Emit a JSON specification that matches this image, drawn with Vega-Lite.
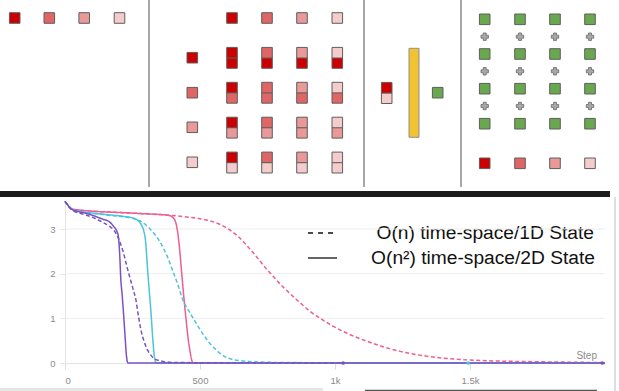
{
"$schema":"https://vega.github.io/schema/vega-lite/v6.json",
"width":619,"height":391,"padding":0,"autosize":{"type":"none"},
"background":"#ffffff",
"config":{"view":{"stroke":null},"font":"Liberation Sans"},
"datasets":{
"blk":[{"x":0,"x2":610,"y":191,"y2":197,"k":"black"},{"x":0,"x2":323,"y":388,"y2":391,"k":"light"}],
"ybar":[{"x":409,"x2":419,"y":48.3,"y2":137.3}],
"vr":[{"x":149,"y":0,"y2":187,"k":"div"},{"x":364,"y":0,"y2":187,"k":"div"},{"x":461,"y":0,"y2":187,"k":"div"},{"x":615,"y":197,"y2":391,"k":"edge"}],
"hs":[{"x":308,"x2":337,"y":258,"k":"legend"},{"x":365,"x2":597,"y":390.3,"k":"dark"}],
"hd":[{"x":308,"x2":338,"y":233,"k":"legend"}],
"sq":[
{"x":14.7,"y":18,"c":"c0"},{"x":49.3,"y":18,"c":"c1"},{"x":84.2,"y":18,"c":"c2"},{"x":119.5,"y":18,"c":"c3"},
{"x":232,"y":18,"c":"c0"},{"x":267,"y":18,"c":"c1"},{"x":302,"y":18,"c":"c2"},{"x":337.3,"y":18,"c":"c3"},
{"x":192.3,"y":57.7,"c":"c0"},{"x":192.3,"y":92.7,"c":"c1"},{"x":192.3,"y":127.3,"c":"c2"},{"x":192.3,"y":162.3,"c":"c3"},
{"x":232,"y":63,"c":"c0"},{"x":267,"y":63,"c":"c0"},{"x":302,"y":63,"c":"c0"},{"x":337.3,"y":63,"c":"c0"},
{"x":232,"y":97.9,"c":"c1"},{"x":267,"y":97.9,"c":"c1"},{"x":302,"y":97.9,"c":"c1"},{"x":337.3,"y":97.9,"c":"c1"},
{"x":232,"y":132.8,"c":"c2"},{"x":267,"y":132.8,"c":"c2"},{"x":302,"y":132.8,"c":"c2"},{"x":337.3,"y":132.8,"c":"c2"},
{"x":232,"y":167.7,"c":"c3"},{"x":267,"y":167.7,"c":"c3"},{"x":302,"y":167.7,"c":"c3"},{"x":337.3,"y":167.7,"c":"c3"},
{"x":232,"y":52.7,"c":"c0"},{"x":267,"y":52.7,"c":"c1"},{"x":302,"y":52.7,"c":"c2"},{"x":337.3,"y":52.7,"c":"c3"},
{"x":232,"y":87.6,"c":"c0"},{"x":267,"y":87.6,"c":"c1"},{"x":302,"y":87.6,"c":"c2"},{"x":337.3,"y":87.6,"c":"c3"},
{"x":232,"y":122.5,"c":"c0"},{"x":267,"y":122.5,"c":"c1"},{"x":302,"y":122.5,"c":"c2"},{"x":337.3,"y":122.5,"c":"c3"},
{"x":232,"y":157.4,"c":"c0"},{"x":267,"y":157.4,"c":"c1"},{"x":302,"y":157.4,"c":"c2"},{"x":337.3,"y":157.4,"c":"c3"},
{"x":386.7,"y":98.2,"c":"c3"},{"x":386.7,"y":87.7,"c":"c0"},{"x":437.7,"y":92.7,"c":"g"},
{"x":484.7,"y":19.3,"c":"g"},{"x":520,"y":19.3,"c":"g"},{"x":555,"y":19.3,"c":"g"},{"x":590,"y":19.3,"c":"g"},
{"x":484.7,"y":54,"c":"g"},{"x":520,"y":54,"c":"g"},{"x":555,"y":54,"c":"g"},{"x":590,"y":54,"c":"g"},
{"x":484.7,"y":88.7,"c":"g"},{"x":520,"y":88.7,"c":"g"},{"x":555,"y":88.7,"c":"g"},{"x":590,"y":88.7,"c":"g"},
{"x":484.7,"y":123.7,"c":"g"},{"x":520,"y":123.7,"c":"g"},{"x":555,"y":123.7,"c":"g"},{"x":590,"y":123.7,"c":"g"},
{"x":484.7,"y":163.3,"c":"c0"},{"x":520,"y":163.3,"c":"c1"},{"x":555,"y":163.3,"c":"c2"},{"x":590,"y":163.3,"c":"c3"}
],
"plus":[
{"x":484.7,"y":36.7},{"x":520,"y":36.7},{"x":555,"y":36.7},{"x":590,"y":36.7},
{"x":484.7,"y":71.3},{"x":520,"y":71.3},{"x":555,"y":71.3},{"x":590,"y":71.3},
{"x":484.7,"y":106},{"x":520,"y":106},{"x":555,"y":106},{"x":590,"y":106}
],
"txt":[{"x":594,"y":233,"label":"O(n) time-space/1D State"},{"x":595,"y":257.5,"label":"O(n²) time-space/2D State"}],
"steptxt":[{"x":597,"y":356,"label":"Step"}],
"grid":[{"g":1},{"g":2},{"g":3}],
"lines":[
{"s":"pink","t":"dash","step":0,"v":3.62},{"s":"pink","t":"dash","step":10,"v":3.54},{"s":"pink","t":"dash","step":20,"v":3.47},{"s":"pink","t":"dash","step":32,"v":3.44},{"s":"pink","t":"dash","step":60,"v":3.42},{"s":"pink","t":"dash","step":100,"v":3.4},{"s":"pink","t":"dash","step":200,"v":3.37},{"s":"pink","t":"dash","step":300,"v":3.34},{"s":"pink","t":"dash","step":383,"v":3.31},{"s":"pink","t":"dash","step":450,"v":3.27},{"s":"pink","t":"dash","step":500,"v":3.23},{"s":"pink","t":"dash","step":550,"v":3.16},{"s":"pink","t":"dash","step":600,"v":3.02},{"s":"pink","t":"dash","step":640,"v":2.84},{"s":"pink","t":"dash","step":685,"v":2.55},{"s":"pink","t":"dash","step":720,"v":2.3},{"s":"pink","t":"dash","step":747,"v":2.1},{"s":"pink","t":"dash","step":780,"v":1.88},{"s":"pink","t":"dash","step":808,"v":1.7},{"s":"pink","t":"dash","step":850,"v":1.46},{"s":"pink","t":"dash","step":880,"v":1.3},{"s":"pink","t":"dash","step":907,"v":1.16},{"s":"pink","t":"dash","step":950,"v":0.98},{"s":"pink","t":"dash","step":994,"v":0.82},{"s":"pink","t":"dash","step":1050,"v":0.65},{"s":"pink","t":"dash","step":1117,"v":0.49},{"s":"pink","t":"dash","step":1180,"v":0.36},{"s":"pink","t":"dash","step":1241,"v":0.26},{"s":"pink","t":"dash","step":1320,"v":0.17},{"s":"pink","t":"dash","step":1400,"v":0.11},{"s":"pink","t":"dash","step":1488,"v":0.07},{"s":"pink","t":"dash","step":1600,"v":0.045},{"s":"pink","t":"dash","step":1733,"v":0.03},{"s":"pink","t":"dash","step":1850,"v":0.02},{"s":"pink","t":"dash","step":1985,"v":0.01},
{"s":"pink","t":"solid","step":0,"v":3.62},{"s":"pink","t":"solid","step":10,"v":3.54},{"s":"pink","t":"solid","step":20,"v":3.47},{"s":"pink","t":"solid","step":32,"v":3.44},{"s":"pink","t":"solid","step":60,"v":3.42},{"s":"pink","t":"solid","step":100,"v":3.4},{"s":"pink","t":"solid","step":200,"v":3.37},{"s":"pink","t":"solid","step":300,"v":3.34},{"s":"pink","t":"solid","step":380,"v":3.31},{"s":"pink","t":"solid","step":395,"v":3.28},{"s":"pink","t":"solid","step":405,"v":3.22},{"s":"pink","t":"solid","step":413,"v":3.08},{"s":"pink","t":"solid","step":418,"v":2.9},{"s":"pink","t":"solid","step":422,"v":2.7},{"s":"pink","t":"solid","step":426,"v":2.45},{"s":"pink","t":"solid","step":431,"v":2.1},{"s":"pink","t":"solid","step":436,"v":1.75},{"s":"pink","t":"solid","step":441,"v":1.42},{"s":"pink","t":"solid","step":448,"v":1.0},{"s":"pink","t":"solid","step":455,"v":0.6},{"s":"pink","t":"solid","step":462,"v":0.3},{"s":"pink","t":"solid","step":468,"v":0.1},{"s":"pink","t":"solid","step":473,"v":0.01},{"s":"pink","t":"solid","step":478,"v":0},{"s":"pink","t":"solid","step":2000,"v":0},
{"s":"cyan","t":"dash","step":0,"v":3.62},{"s":"cyan","t":"dash","step":10,"v":3.54},{"s":"cyan","t":"dash","step":20,"v":3.47},{"s":"cyan","t":"dash","step":32,"v":3.42},{"s":"cyan","t":"dash","step":60,"v":3.38},{"s":"cyan","t":"dash","step":100,"v":3.35},{"s":"cyan","t":"dash","step":160,"v":3.31},{"s":"cyan","t":"dash","step":220,"v":3.27},{"s":"cyan","t":"dash","step":250,"v":3.24},{"s":"cyan","t":"dash","step":278,"v":3.18},{"s":"cyan","t":"dash","step":300,"v":3.09},{"s":"cyan","t":"dash","step":315,"v":3.0},{"s":"cyan","t":"dash","step":335,"v":2.86},{"s":"cyan","t":"dash","step":352,"v":2.71},{"s":"cyan","t":"dash","step":377,"v":2.41},{"s":"cyan","t":"dash","step":400,"v":2.05},{"s":"cyan","t":"dash","step":420,"v":1.72},{"s":"cyan","t":"dash","step":436,"v":1.42},{"s":"cyan","t":"dash","step":455,"v":1.2},{"s":"cyan","t":"dash","step":475,"v":1.0},{"s":"cyan","t":"dash","step":495,"v":0.8},{"s":"cyan","t":"dash","step":512,"v":0.64},{"s":"cyan","t":"dash","step":535,"v":0.45},{"s":"cyan","t":"dash","step":562,"v":0.28},{"s":"cyan","t":"dash","step":590,"v":0.15},{"s":"cyan","t":"dash","step":620,"v":0.08},{"s":"cyan","t":"dash","step":680,"v":0.035},{"s":"cyan","t":"dash","step":760,"v":0.015},{"s":"cyan","t":"dash","step":1000,"v":0.005},{"s":"cyan","t":"dash","step":1493,"v":0},
{"s":"cyan","t":"solid","step":0,"v":3.62},{"s":"cyan","t":"solid","step":10,"v":3.54},{"s":"cyan","t":"solid","step":20,"v":3.47},{"s":"cyan","t":"solid","step":32,"v":3.43},{"s":"cyan","t":"solid","step":60,"v":3.39},{"s":"cyan","t":"solid","step":100,"v":3.36},{"s":"cyan","t":"solid","step":160,"v":3.32},{"s":"cyan","t":"solid","step":220,"v":3.28},{"s":"cyan","t":"solid","step":250,"v":3.25},{"s":"cyan","t":"solid","step":268,"v":3.2},{"s":"cyan","t":"solid","step":282,"v":3.1},{"s":"cyan","t":"solid","step":292,"v":2.95},{"s":"cyan","t":"solid","step":298,"v":2.75},{"s":"cyan","t":"solid","step":302,"v":2.45},{"s":"cyan","t":"solid","step":307,"v":2.0},{"s":"cyan","t":"solid","step":311,"v":1.7},{"s":"cyan","t":"solid","step":315,"v":1.4},{"s":"cyan","t":"solid","step":320,"v":1.0},{"s":"cyan","t":"solid","step":325,"v":0.55},{"s":"cyan","t":"solid","step":330,"v":0.2},{"s":"cyan","t":"solid","step":334,"v":0.05},{"s":"cyan","t":"solid","step":338,"v":0},{"s":"cyan","t":"solid","step":2000,"v":0},
{"s":"purple","t":"dash","step":0,"v":3.62},{"s":"purple","t":"dash","step":10,"v":3.54},{"s":"purple","t":"dash","step":20,"v":3.46},{"s":"purple","t":"dash","step":32,"v":3.4},{"s":"purple","t":"dash","step":50,"v":3.36},{"s":"purple","t":"dash","step":80,"v":3.31},{"s":"purple","t":"dash","step":110,"v":3.24},{"s":"purple","t":"dash","step":140,"v":3.15},{"s":"purple","t":"dash","step":165,"v":3.06},{"s":"purple","t":"dash","step":180,"v":2.98},{"s":"purple","t":"dash","step":191,"v":2.88},{"s":"purple","t":"dash","step":205,"v":2.68},{"s":"purple","t":"dash","step":216,"v":2.48},{"s":"purple","t":"dash","step":228,"v":2.19},{"s":"purple","t":"dash","step":240,"v":1.92},{"s":"purple","t":"dash","step":252,"v":1.66},{"s":"purple","t":"dash","step":263,"v":1.4},{"s":"purple","t":"dash","step":272,"v":1.05},{"s":"purple","t":"dash","step":282,"v":0.72},{"s":"purple","t":"dash","step":292,"v":0.5},{"s":"purple","t":"dash","step":305,"v":0.3},{"s":"purple","t":"dash","step":320,"v":0.16},{"s":"purple","t":"dash","step":340,"v":0.07},{"s":"purple","t":"dash","step":370,"v":0.03},{"s":"purple","t":"dash","step":400,"v":0.01},{"s":"purple","t":"dash","step":1030,"v":0},
{"s":"purple","t":"solid","step":0,"v":3.62},{"s":"purple","t":"solid","step":10,"v":3.54},{"s":"purple","t":"solid","step":20,"v":3.47},{"s":"purple","t":"solid","step":32,"v":3.42},{"s":"purple","t":"solid","step":50,"v":3.39},{"s":"purple","t":"solid","step":80,"v":3.35},{"s":"purple","t":"solid","step":110,"v":3.29},{"s":"purple","t":"solid","step":140,"v":3.22},{"s":"purple","t":"solid","step":165,"v":3.16},{"s":"purple","t":"solid","step":180,"v":3.06},{"s":"purple","t":"solid","step":192,"v":2.95},{"s":"purple","t":"solid","step":197,"v":2.86},{"s":"purple","t":"solid","step":201,"v":2.6},{"s":"purple","t":"solid","step":204,"v":2.25},{"s":"purple","t":"solid","step":206,"v":1.96},{"s":"purple","t":"solid","step":212,"v":1.5},{"s":"purple","t":"solid","step":218,"v":1.0},{"s":"purple","t":"solid","step":223,"v":0.55},{"s":"purple","t":"solid","step":227,"v":0.2},{"s":"purple","t":"solid","step":230,"v":0.05},{"s":"purple","t":"solid","step":233,"v":0},{"s":"purple","t":"solid","step":2000,"v":0}
],
"dots":[{"s":"purple","step":1030,"v":0},{"s":"cyan","step":1493,"v":0},{"s":"purple","step":1990,"v":0}]
},
"layer":[
{"layer":[
 {"data":{"name":"blk"},"mark":{"type":"rect"},"encoding":{
  "x":{"field":"x","type":"quantitative","scale":{"domain":[0,619],"nice":false,"zero":false},"axis":null},
  "x2":{"field":"x2"},
  "y":{"field":"y","type":"quantitative","scale":{"domain":[0,391],"reverse":true,"nice":false,"zero":false},"axis":null},
  "y2":{"field":"y2"},
  "fill":{"field":"k","type":"nominal","scale":{"domain":["c0","c1","c2","c3","g","black","light"],"range":["#cc0000","#e06666","#ea9999","#f4cccc","#6aa84f","#1c1c1c","#e6e6e6"]},"legend":null}}},
 {"data":{"name":"vr"},"mark":{"type":"rule","strokeWidth":1.5},"encoding":{
  "x":{"field":"x","type":"quantitative"},
  "y":{"field":"y","type":"quantitative"},"y2":{"field":"y2"},
  "stroke":{"field":"k","type":"nominal","scale":{"domain":["div","edge","legend","dark"],"range":["#8a8a8a","#d4d4d4","#111111","#555555"]},"legend":null}}},
 {"data":{"name":"hs"},"mark":{"type":"rule","strokeWidth":1.3},"encoding":{
  "x":{"field":"x","type":"quantitative"},"x2":{"field":"x2"},
  "y":{"field":"y","type":"quantitative"},
  "stroke":{"field":"k","type":"nominal","legend":null}}},
 {"data":{"name":"hd"},"mark":{"type":"rule","strokeWidth":1.5,"strokeDash":[5,5]},"encoding":{
  "x":{"field":"x","type":"quantitative"},"x2":{"field":"x2"},
  "y":{"field":"y","type":"quantitative"},
  "stroke":{"field":"k","type":"nominal","legend":null}}},
 {"data":{"name":"ybar"},"mark":{"type":"rect","fill":"#f1c232","stroke":"#8f8f8f","strokeWidth":1},"encoding":{
  "x":{"field":"x","type":"quantitative"},"x2":{"field":"x2"},
  "y":{"field":"y","type":"quantitative"},"y2":{"field":"y2"}}},
 {"data":{"name":"sq"},"mark":{"type":"square","size":112,"filled":true,"opacity":1,"stroke":"#5e5e5e","strokeWidth":1},"encoding":{
  "x":{"field":"x","type":"quantitative"},
  "y":{"field":"y","type":"quantitative"},
  "fill":{"field":"c","type":"nominal","legend":null}}},
 {"data":{"name":"plus"},"mark":{"type":"point","shape":"cross","size":55,"filled":true,"opacity":1,"fill":"#a8a8a8","stroke":"#6a6a6a","strokeWidth":0.8},"encoding":{
  "x":{"field":"x","type":"quantitative"},
  "y":{"field":"y","type":"quantitative"}}},
 {"data":{"name":"txt"},"mark":{"type":"text","align":"right","baseline":"middle","fontSize":19.2,"color":"#111111","font":"Liberation Sans"},"encoding":{
  "x":{"field":"x","type":"quantitative"},
  "y":{"field":"y","type":"quantitative"},
  "text":{"field":"label"}}},
 {"data":{"name":"steptxt"},"mark":{"type":"text","align":"right","baseline":"middle","fontSize":10,"color":"#8a8a8a","font":"Liberation Sans"},"encoding":{
  "x":{"field":"x","type":"quantitative"},
  "y":{"field":"y","type":"quantitative"},
  "text":{"field":"label"}}}
]},
{"layer":[
 {"data":{"name":"grid"},"mark":{"type":"rule","color":"#ededed","strokeWidth":1},"encoding":{
  "y":{"field":"g","type":"quantitative","scale":{"domain":[0,3.65],"range":[363,200],"nice":false,"zero":false},"axis":{"orient":"left","offset":-65,"values":[0,1,2,3],"format":"d","grid":false,"domain":true,"domainColor":"#e4e4e4","tickColor":"#e4e4e4","tickSize":5,"labelColor":"#8a8a8a","labelFontSize":9.5,"labelPadding":5,"title":null}},
  "x":{"datum":0,"type":"quantitative","scale":{"domain":[0,2000],"range":[65,605],"nice":false,"zero":false},"axis":{"orient":"bottom","offset":-28,"values":[0,500,1000,1500],"labelExpr":"datum.value >= 1000 ? (datum.value/1000) + 'k' : datum.value","grid":false,"domain":true,"domainColor":"#e4e4e4","tickColor":"#dcdcdc","tickSize":6,"labelColor":"#8a8a8a","labelFontSize":9.5,"labelPadding":6,"title":null}},
  "x2":{"datum":2000}}},
 {"data":{"name":"lines"},"mark":{"type":"line","strokeWidth":1.5,"interpolate":"monotone"},"encoding":{
  "x":{"field":"step","type":"quantitative"},
  "y":{"field":"v","type":"quantitative"},
  "color":{"field":"s","type":"nominal","scale":{"domain":["pink","cyan","purple"],"range":["#ee5e92","#4cc4d9","#7b52c4"]},"legend":null},
  "strokeDash":{"field":"t","type":"nominal","scale":{"domain":["dash","solid"],"range":[[4,2.5],[1,0]]},"legend":null}}},
 {"data":{"name":"dots"},"mark":{"type":"point","filled":true,"size":14,"opacity":1},"encoding":{
  "x":{"field":"step","type":"quantitative"},
  "y":{"field":"v","type":"quantitative"},
  "color":{"field":"s","type":"nominal","legend":null}}}
]}
],
"resolve":{"scale":{"x":"independent","y":"independent"},"axis":{"x":"independent","y":"independent"}}
}
